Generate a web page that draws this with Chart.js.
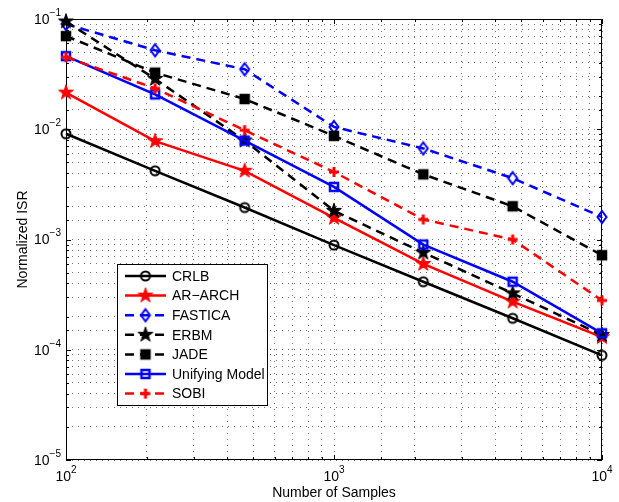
<!DOCTYPE html>
<html>
<head>
<meta charset="utf-8">
<script src="https://cdn.jsdelivr.net/npm/chart.js@4.4.0/dist/chart.umd.min.js"></script>
<style>
  html, body { margin: 0; padding: 0; background: #fff; }
</style>
</head>
<body>
<canvas id="isrChart" width="619" height="502"></canvas>
<script>
// number of samples (x) and normalized ISR per method (y)
var samples = [100, 215, 464, 1000, 2154, 4642, 10000];
var crlb     = [0.0091, 0.0042, 0.00195, 0.00089, 0.000414, 0.000193, 0.000089];
var arArch   = [0.0215, 0.0078, 0.0042, 0.00157, 0.00060, 0.000273, 0.00013];
var fastica  = [0.090, 0.052, 0.035, 0.0105, 0.0067, 0.0036, 0.0016];
var erbm     = [0.095, 0.0286, 0.0079, 0.00182, 0.00076, 0.000325, 0.000136];
var jade     = [0.070, 0.0326, 0.0188, 0.0087, 0.0039, 0.0020, 0.00072];
var unifying = [0.046, 0.0207, 0.0079, 0.0030, 0.00090, 0.000414, 0.000141];
var sobi     = [0.045, 0.0235, 0.0098, 0.0041, 0.00152, 0.0010, 0.00028];

var xTickPowers = [2, 3, 4];
var yTickPowers = [-5, -4, -3, -2, -1];

var FONT = '"Liberation Sans", Arial, Helvetica, sans-serif';
Chart.defaults.font.family = FONT;
Chart.defaults.color = '#000';

function makeMarker(kind, color, filled) {
    var c = document.createElement('canvas');
    c.width = 20;
    c.height = 20;
    var g = c.getContext('2d');
    g.translate(10, 10);
    g.strokeStyle = color;
    g.fillStyle = color;
    g.lineWidth = 2;
    g.beginPath();
    if (kind === 'circle') {
        g.arc(0, 0, 4.5, 0, Math.PI * 2);
        g.stroke();
    } else if (kind === 'star') {
        for (var i = 0; i < 10; i++) {
            var r = i % 2 ? 3.0 : 7.8;
            var a = -Math.PI / 2 + i * Math.PI / 5;
            if (i === 0) g.moveTo(r * Math.cos(a), r * Math.sin(a));
            else g.lineTo(r * Math.cos(a), r * Math.sin(a));
        }
        g.closePath();
        g.fill();
        g.lineWidth = 1;
        g.stroke();
    } else if (kind === 'diamond') {
        g.moveTo(0, -6);
        g.lineTo(4.5, 0);
        g.lineTo(0, 6);
        g.lineTo(-4.5, 0);
        g.closePath();
        g.stroke();
    } else if (kind === 'square') {
        g.rect(-4, -4, 8, 8);
        if (filled) g.fill();
        g.lineWidth = 2.5;
        g.stroke();
    } else if (kind === 'plus') {
        g.moveTo(-5, 0); g.lineTo(5, 0);
        g.moveTo(0, -5); g.lineTo(0, 5);
        g.lineWidth = 3;
        g.stroke();
    }
    return c;
}

function series(label, values, color, dashed, marker) {
    return {
        label: label,
        data: samples.map(function (x, i) { return { x: x, y: values[i] }; }),
        borderColor: color,
        backgroundColor: color,
        borderWidth: 2.5,
        borderDash: dashed ? [9, 6] : [],
        pointStyle: marker,
        pointRadius: 6,
        pointHoverRadius: 6,
        tension: 0,
        fill: false,
        clip: false
    };
}

var datasets = [
    series('CRLB', crlb, '#000000', false, makeMarker('circle', '#000000')),
    series('AR\u2212ARCH', arArch, '#ff0000', false, makeMarker('star', '#ff0000')),
    series('FASTICA', fastica, '#0000ff', true, makeMarker('diamond', '#0000ff')),
    series('ERBM', erbm, '#000000', true, makeMarker('star', '#000000')),
    series('JADE', jade, '#000000', true, makeMarker('square', '#000000', true)),
    series('Unifying Model', unifying, '#0000ff', false, makeMarker('square', '#0000ff', false)),
    series('SOBI', sobi, '#ff0000', true, makeMarker('plus', '#ff0000'))
];
// later series drawn on top, like the original plot
datasets.forEach(function (d, i) { d.order = datasets.length - i; });

var isPow10 = function (v) {
    var e = Math.log10(v);
    return Math.abs(e - Math.round(e)) < 1e-6;
};

// MATLAB style box + inward tick marks
var boxPlugin = {
    id: 'box',
    beforeDatasetsDraw: function (chart) {
        var a = chart.chartArea, ctx = chart.ctx;
        var xs = chart.scales.x, ys = chart.scales.y;
        ctx.save();
        ctx.strokeStyle = '#000';
        ctx.lineWidth = 1;
        ctx.setLineDash([]);
        ctx.beginPath();
        xs.ticks.forEach(function (t) {
            var px = Math.round(xs.getPixelForValue(t.value)) + 0.5;
            var len = isPow10(t.value) ? 5 : 3;
            ctx.moveTo(px, a.bottom); ctx.lineTo(px, a.bottom - len);
            ctx.moveTo(px, a.top); ctx.lineTo(px, a.top + len);
        });
        ys.ticks.forEach(function (t) {
            var py = Math.round(ys.getPixelForValue(t.value)) + 0.5;
            var len = isPow10(t.value) ? 5 : 3;
            ctx.moveTo(a.left, py); ctx.lineTo(a.left + len, py);
            ctx.moveTo(a.right, py); ctx.lineTo(a.right - len, py);
        });
        ctx.stroke();
        ctx.strokeRect(Math.round(a.left) + 0.5, Math.round(a.top) + 0.5,
            Math.round(a.right - a.left) - 1, Math.round(a.bottom - a.top) - 1);
        ctx.restore();
    }
};

// "10" with raised exponent for tick labels
var powLabels = {
    id: 'powLabels',
    afterDraw: function (chart) {
        var ctx = chart.ctx, a = chart.chartArea;
        var xs = chart.scales.x, ys = chart.scales.y;
        var big = '14px ' + FONT, small = '10px ' + FONT;
        ctx.save();
        ctx.fillStyle = '#000';
        ctx.textBaseline = 'middle';
        yTickPowers.forEach(function (p) {
            var py = ys.getPixelForValue(Math.pow(10, p));
            var exp = p < 0 ? '\u2212' + (-p) : String(p);
            ctx.font = small;
            var we = ctx.measureText(exp).width;
            ctx.font = big;
            var wb = ctx.measureText('10').width;
            var right = a.left - 5;
            ctx.textAlign = 'left';
            ctx.fillText('10', right - we - wb, py + 1);
            ctx.font = small;
            ctx.fillText(exp, right - we, py - 6);
        });
        xTickPowers.forEach(function (p) {
            var px = xs.getPixelForValue(Math.pow(10, p));
            var exp = String(p);
            ctx.font = small;
            var we = ctx.measureText(exp).width;
            ctx.font = big;
            var wb = ctx.measureText('10').width;
            var left = px - (wb + we) / 2;
            ctx.textAlign = 'left';
            ctx.fillText('10', left, a.bottom + 17);
            ctx.font = small;
            ctx.fillText(exp, left + wb, a.bottom + 10);
        });
        ctx.restore();
    }
};

// legend box with line + marker samples
var legendBox = {
    id: 'legendBox',
    afterDraw: function (chart) {
        var ctx = chart.ctx;
        var bx = 117, by = 264, bw = 150, bh = 141, row = 19.6;
        ctx.save();
        ctx.fillStyle = '#fff';
        ctx.fillRect(bx, by, bw, bh);
        ctx.strokeStyle = '#000';
        ctx.lineWidth = 1;
        ctx.setLineDash([]);
        ctx.strokeRect(bx + 0.5, by + 0.5, bw, bh);
        ctx.font = '14px ' + FONT;
        ctx.textBaseline = 'middle';
        ctx.textAlign = 'left';
        chart.data.datasets.forEach(function (d, i) {
            var y = by + 12 + i * row;
            ctx.strokeStyle = d.borderColor;
            ctx.lineWidth = d.borderWidth;
            ctx.setLineDash(d.borderDash);
            ctx.beginPath();
            ctx.moveTo(bx + 8, y);
            ctx.lineTo(bx + 49, y);
            ctx.stroke();
            ctx.setLineDash([]);
            var m = d.pointStyle;
            ctx.drawImage(m, bx + 28.5 - m.width / 2, y - m.height / 2);
            ctx.fillStyle = '#000';
            ctx.fillText(d.label, bx + 55, y + 1);
        });
        ctx.restore();
    }
};

var gridOpts = { color: 'rgba(0,0,0,0.55)', lineWidth: 1, drawTicks: false, borderDash: [1, 5] };

var ctx = document.getElementById('isrChart').getContext('2d');
var isrChart = new Chart(ctx, {
    type: 'line',
    data: { datasets: datasets },
    options: {
        responsive: false,
        animation: false,
        events: [],
        layout: { padding: { left: 0, right: 17, top: 19, bottom: 0 } },
        plugins: {
            legend: { display: false },
            tooltip: { enabled: false }
        },
        scales: {
            x: {
                type: 'logarithmic',
                min: 100,
                max: 10000,
                afterFit: function (scale) { scale.height = 42; },
                ticks: { autoSkip: false, callback: function () { return ''; } },
                grid: gridOpts,
                border: { display: false, dash: [1, 5] },
                title: {
                    display: true,
                    text: 'Number of Samples',
                    font: { size: 14 },
                    padding: { top: 0, bottom: 0 }
                }
            },
            y: {
                type: 'logarithmic',
                min: 1e-5,
                max: 1e-1,
                afterFit: function (scale) { scale.width = 66; },
                ticks: { autoSkip: false, callback: function () { return ''; } },
                grid: gridOpts,
                border: { display: false, dash: [1, 5] },
                title: {
                    display: true,
                    text: 'Normalized ISR',
                    font: { size: 14 },
                    padding: { top: 15, bottom: 15 }
                }
            }
        }
    },
    plugins: [boxPlugin, powLabels, legendBox]
});
</script>
</body>
</html>
